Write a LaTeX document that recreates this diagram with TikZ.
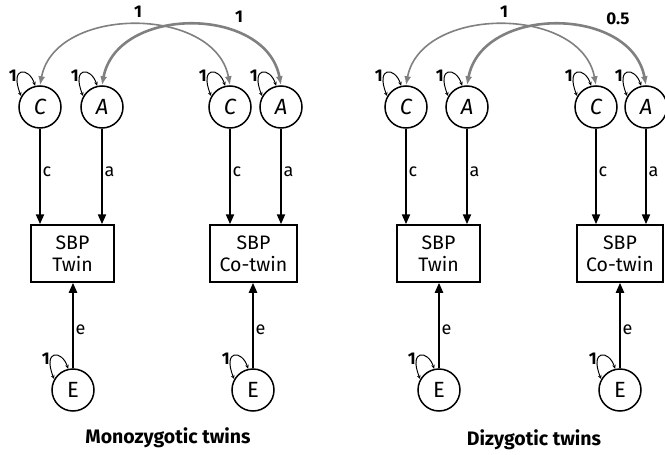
\documentclass[tikz,border=0pt]{standalone}
\usepackage{fontspec}
\setmainfont{Fira Sans}
\usetikzlibrary{arrows.meta,calc}
\tikzset{
  lat/.style={draw, circle, minimum size=42pt, inner sep=0pt, line width=1.5pt, font=\fontsize{22}{22}\selectfont},
  obs/.style={draw, rectangle, minimum height=57pt, inner sep=0pt, line width=1.5pt, align=center, font=\fontsize{19.5}{22}\selectfont},
  path1/.style={line width=2.2pt, -{Triangle[length=10pt,width=8pt]}},
  corr/.style={draw=gray, line width=#1, {Latex[length=9pt,width=7pt]}-{Latex[length=9pt,width=7pt]}},
  vloop/.style={line width=1pt, {Stealth[length=4pt,width=3.5pt]}-{Stealth[length=4pt,width=3.5pt]}},
  plab/.style={font=\fontsize{18}{18}\selectfont, inner sep=1.5pt},
  one/.style={font=\bfseries\fontsize{17}{17}\selectfont, inner sep=0pt},
  ttl/.style={font=\bfseries\fontsize{19.5}{19.5}\selectfont}
}
\begin{document}
\begin{tikzpicture}[x=1pt, y=-1pt]
\useasboundingbox (0,0) rectangle (665,455);
% ---------- left panel ----------
\node[lat] (C1) at (40,107) {\itshape C};
\node[lat] (A1) at (102,107) {\itshape A};
\node[lat] (C2) at (230,107) {\itshape C};
\node[lat] (A2) at (281,107) {\itshape A};
\node[obs, minimum width=83pt] (T1) at (72.5,253.5) {SBP\\Twin};
\node[obs, minimum width=87pt] (T2) at (253.5,253.5) {SBP\\Co-twin};
\node[lat] (E1) at (73,390) {E};
\node[lat] (E2) at (253,390) {E};
\draw[path1] (C1.south) -- node[plab, right, pos=0.45] {c} (C1.south |- T1.north);
\draw[path1] (A1.south) -- node[plab, right, pos=0.45] {a} (A1.south |- T1.north);
\draw[path1] (C2.south) -- node[plab, right, pos=0.45] {c} (C2.south |- T2.north);
\draw[path1] (A2.south) -- node[plab, right, pos=0.45] {a} (A2.south |- T2.north);
\draw[path1] (E1.north) -- node[plab, right, pos=0.45] {e} (E1.north |- T1.south);
\draw[path1] (E2.north) -- node[plab, right, pos=0.45] {e} (E2.north |- T2.south);
\draw[corr=1.6pt] (C1.north) .. controls +(15,-80) and +(-15,-80) .. (C2.north);
\draw[corr=2.6pt] (A1.north) .. controls +(15,-80) and +(-15,-80) .. (A2.north);
\node[one] (r1) at (138,12) {1};
\node[one] (r2) at (239,17) {1};
\node[ttl] (t1) at (168,438) {Monozygotic twins};
% ---------- right panel ----------
\node[lat] (C3) at (406,107) {\itshape C};
\node[lat] (A3) at (467,107) {\itshape A};
\node[lat] (C4) at (596,107) {\itshape C};
\node[lat] (A4) at (646,107) {\itshape A};
\node[obs, minimum width=83pt] (T3) at (438.5,253.5) {SBP\\Twin};
\node[obs, minimum width=86pt] (T4) at (620,253.5) {SBP\\Co-twin};
\node[lat] (E3) at (439,390) {E};
\node[lat] (E4) at (620,390) {E};
\draw[path1] (C3.south) -- node[plab, right, pos=0.45] {c} (C3.south |- T3.north);
\draw[path1] (A3.south) -- node[plab, right, pos=0.45] {a} (A3.south |- T3.north);
\draw[path1] (C4.south) -- node[plab, right, pos=0.45] {c} (C4.south |- T4.north);
\draw[path1] (A4.south) -- node[plab, right, pos=0.45] {a} (A4.south |- T4.north);
\draw[path1] (E3.north) -- node[plab, right, pos=0.45] {e} (E3.north |- T3.south);
\draw[path1] (E4.north) -- node[plab, right, pos=0.45] {e} (E4.north |- T4.south);
\draw[corr=1.6pt] (C3.north) .. controls +(15,-80) and +(-15,-80) .. (C4.north);
\draw[corr=2.6pt] (A3.north) .. controls +(15,-80) and +(-15,-80) .. (A4.north);
\node[one] (r3) at (504,12) {1};
\node[one] (r4) at (618,19) {0.5};
\node[ttl] (t2) at (534,440) {Dizygotic twins};
% ---------- variance loops ----------
\foreach \n in {C1,A1,C2,A2,C3,A3,C4,A4,E1,E2,E3,E4}{
  \draw[vloop] (\n.150) .. controls +(-12,-30) and +(-6,-19) .. (\n.103);
  \node[one, anchor=east] at ($(\n.center)+(-23,-31)$) {1};
}
\end{tikzpicture}
\end{document}
